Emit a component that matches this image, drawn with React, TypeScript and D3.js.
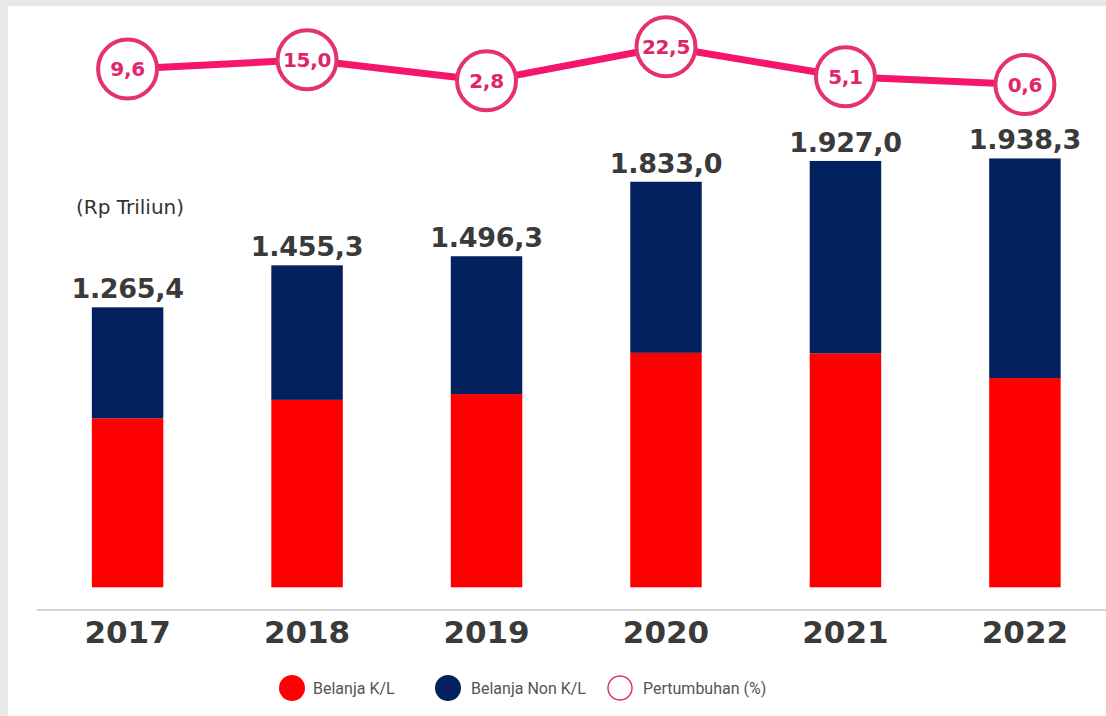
import React from "react";
import * as d3 from "d3";

const years = ["2017", "2018", "2019", "2020", "2021", "2022"];
const totalLabels = ["1.265,4", "1.455,3", "1.496,3", "1.833,0", "1.927,0", "1.938,3"];
const totals = [1265.4, 1455.3, 1496.3, 1833.0, 1927.0, 1938.3];
const belanjaKL = [763.6, 847.1, 873.4, 1059.6, 1057.5, 945.8];
const belanjaNonKL = totals.map((t, i) => t - belanjaKL[i]);
const growth = [9.6, 15.0, 2.8, 22.5, 5.1, 0.6];
const growthLabels = ["9,6", "15,0", "2,8", "22,5", "5,1", "0,6"];
const legendItems = ["Belanja K/L", "Belanja Non K/L", "Pertumbuhan (%)"];

const W = 1106;
const H = 716;
const RED = "#ff0000";
const NAVY = "#03215f";
const PINK_LINE = "#f5166c";
const PINK_RING = "#e4326d";
const PINK_TEXT = "#e0256a";
const DARK = "#3a3a3a";

export default function App() {
  const x = d3.scaleBand<string>().domain(years).range([38, 1114.5]).paddingInner(0.6017).paddingOuter(0.3);
  const y = d3.scaleLinear().domain([0, 2000]).range([587.3, 144.8]);
  const gy = d3.scaleLinear().domain([0, 25]).range([85.6, 42.5]);
  const bw = x.bandwidth();
  const cx = (yr: string) => (x(yr) as number) + bw / 2;

  const line = d3
    .line<number>()
    .x((_, i) => cx(years[i]))
    .y((d) => gy(d));

  const boldFont = "'DejaVu Sans', sans-serif";

  return (
    <div style={{ position: "absolute", left: 0, top: 0 }}>
      <svg width={W} height={H} style={{ display: "block" }}>
        <rect x={0} y={0} width={W} height={H} fill="#e8e8e8" />
        <rect x={8} y={6} width={W - 8} height={H - 6} fill="#ffffff" />

        {/* bars */}
        {years.map((yr, i) => (
          <g key={yr}>
            <rect x={x(yr)} y={y(belanjaKL[i])} width={bw} height={y(0) - y(belanjaKL[i])} fill={RED} />
            <rect
              x={x(yr)}
              y={y(belanjaKL[i] + belanjaNonKL[i])}
              width={bw}
              height={y(belanjaKL[i]) - y(belanjaKL[i] + belanjaNonKL[i])}
              fill={NAVY}
            />
            <text
              x={cx(yr)}
              y={y(totals[i]) - 9}
              textAnchor="middle"
              fontFamily={boldFont}
              fontWeight="bold"
              fontSize={27}
              letterSpacing={-0.3}
              fill={DARK}
            >
              {totalLabels[i]}
            </text>
            <text
              x={cx(yr)}
              y={643}
              textAnchor="middle"
              fontFamily={boldFont}
              fontWeight="bold"
              fontSize={31}
              fill={DARK}
            >
              {yr}
            </text>
          </g>
        ))}

        {/* axis line */}
        <line x1={37} x2={W} y1={610} y2={610} stroke="#d2d2d2" strokeWidth={2} />

        {/* unit */}
        <text x={76} y={214} fontFamily={boldFont} fontSize={20} fill="#333">
          (Rp Triliun)
        </text>

        {/* growth line */}
        <path d={line(growth) || ""} fill="none" stroke={PINK_LINE} strokeWidth={7} strokeLinejoin="round" />
        {growth.map((g, i) => (
          <g key={"g" + i}>
            <circle cx={cx(years[i])} cy={gy(g)} r={29.5} fill="#fff" stroke={PINK_RING} strokeWidth={4} />
            <text
              x={cx(years[i])}
              y={gy(g) + 7}
              textAnchor="middle"
              fontFamily={boldFont}
              fontWeight="bold"
              fontSize={20}
              letterSpacing={-0.3}
              fill={PINK_TEXT}
            >
              {growthLabels[i]}
            </text>
          </g>
        ))}

        {/* legend */}
        <g fontFamily="Roboto, sans-serif" fontSize={16} fill="#555">
          <circle cx={292} cy={688} r={13} fill={RED} />
          <text x={313} y={693.5}>{legendItems[0]}</text>
          <circle cx={448} cy={688} r={13} fill={NAVY} />
          <text x={471} y={693.5}>{legendItems[1]}</text>
          <circle cx={620} cy={688} r={12} fill="#fff" stroke={PINK_RING} strokeWidth={1.5} />
          <text x={643} y={693.5}>{legendItems[2]}</text>
        </g>
      </svg>
    </div>
  );
}
